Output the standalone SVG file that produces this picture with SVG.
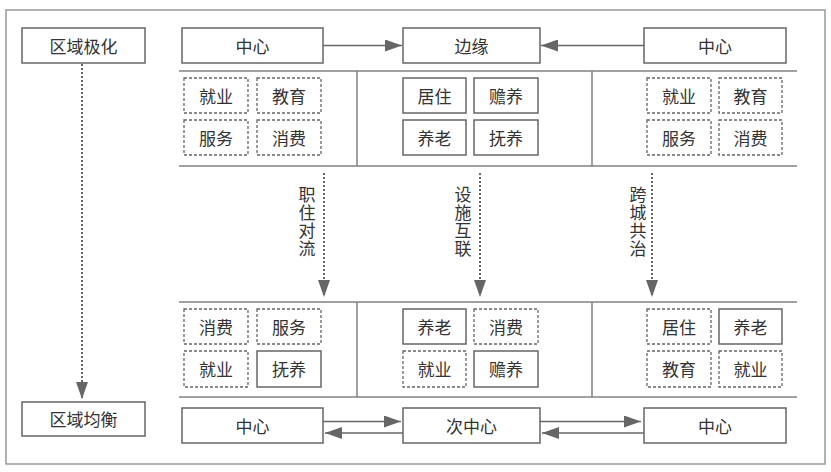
<svg xmlns="http://www.w3.org/2000/svg" width="831" height="472" viewBox="0 0 831 472">
<defs>
<style>
.frame{fill:#fff;stroke:#999;stroke-width:1.5}
.box{fill:#fff;stroke:#666;stroke-width:1.5}
.dbox{fill:#fff;stroke:#666;stroke-width:1.3;stroke-dasharray:3 2}
.line{stroke:#808080;stroke-width:1.5;fill:none}
.conn{stroke:#666;stroke-width:1.5;fill:none}
.dconn{stroke:#666;stroke-width:2;stroke-dasharray:2 2;fill:none}
text{font-family:"Noto Sans CJK SC","Noto Sans",sans-serif;font-size:17px;fill:#333;text-anchor:middle;dominant-baseline:central}
.vt{writing-mode:vertical-rl;letter-spacing:1px}
</style>
<marker id="ah" viewBox="0 0 17 12" refX="17" refY="6" markerWidth="17" markerHeight="12" markerUnits="userSpaceOnUse" orient="auto">
<path d="M0,0 L17,6 L0,12 Z" fill="#666"/>
</marker>
</defs>
<rect class="frame" x="6" y="10" width="819" height="454"/>

<g id="structure">
<line class="line" x1="179" y1="71" x2="797" y2="71"/>
<line class="line" x1="179" y1="166" x2="797" y2="166"/>
<line class="line" x1="357" y1="71" x2="357" y2="166"/>
<line class="line" x1="592" y1="71" x2="592" y2="166"/>
<line class="line" x1="179" y1="302" x2="797" y2="302"/>
<line class="line" x1="179" y1="397" x2="797" y2="397"/>
<line class="line" x1="357" y1="302" x2="357" y2="397"/>
<line class="line" x1="592" y1="302" x2="592" y2="397"/>
</g>

<g id="connectors">
<line class="conn" x1="323" y1="45.5" x2="402" y2="45.5" marker-end="url(#ah)"/>
<line class="conn" x1="644" y1="45.5" x2="541" y2="45.5" marker-end="url(#ah)"/>
<line class="dconn" x1="82" y1="64" x2="82" y2="399" marker-end="url(#ah)"/>
<line class="dconn" x1="324" y1="173" x2="324" y2="297" marker-end="url(#ah)"/>
<line class="dconn" x1="480" y1="173" x2="480" y2="297" marker-end="url(#ah)"/>
<line class="dconn" x1="652" y1="173" x2="652" y2="297" marker-end="url(#ah)"/>
<line class="conn" x1="323" y1="421.5" x2="401" y2="421.5" marker-end="url(#ah)"/>
<line class="conn" x1="403" y1="433" x2="325" y2="433" marker-end="url(#ah)"/>
<line class="conn" x1="540" y1="421.5" x2="641" y2="421.5" marker-end="url(#ah)"/>
<line class="conn" x1="644" y1="433" x2="542" y2="433" marker-end="url(#ah)"/>
</g>

<g id="label-zhuzhu"><text class="vt" x="307" y="222">职住对流</text></g>
<g id="label-sheshi"><text class="vt" x="463" y="222">设施互联</text></g>
<g id="label-kuacheng"><text class="vt" x="638" y="222">跨城共治</text></g>

<g id="polar"><rect class="box" x="22" y="28" width="123" height="35"/><text x="83.5" y="45">区域极化</text></g>
<g id="balance"><rect class="box" x="22" y="402" width="123" height="34"/><text x="83.5" y="418.5">区域均衡</text></g>

<g id="top-center-left"><rect class="box" x="182" y="28" width="141" height="35"/><text x="252.5" y="45">中心</text></g>
<g id="top-edge"><rect class="box" x="403" y="28" width="137" height="35"/><text x="471.5" y="45">边缘</text></g>
<g id="top-center-right"><rect class="box" x="644" y="28" width="142" height="35"/><text x="715" y="45">中心</text></g>

<g id="bot-center-left"><rect class="box" x="182" y="408" width="141" height="35"/><text x="252.5" y="425">中心</text></g>
<g id="bot-sub"><rect class="box" x="403" y="408" width="137" height="35"/><text x="471.5" y="425">次中心</text></g>
<g id="bot-center-right"><rect class="box" x="644" y="408" width="142" height="35"/><text x="715" y="425">中心</text></g>

<g id="t1"><rect class="dbox" x="184" y="78" width="64" height="35"/><text x="216" y="95">就业</text></g>
<g id="t2"><rect class="dbox" x="257" y="78" width="64" height="35"/><text x="289" y="95">教育</text></g>
<g id="t3"><rect class="dbox" x="184" y="120" width="64" height="35"/><text x="216" y="137">服务</text></g>
<g id="t4"><rect class="dbox" x="257" y="120" width="64" height="35"/><text x="289" y="137">消费</text></g>
<g id="t5"><rect class="box" x="403" y="78" width="63" height="35"/><text x="434.5" y="95">居住</text></g>
<g id="t6"><rect class="box" x="474" y="78" width="64" height="35"/><text x="506" y="95">赡养</text></g>
<g id="t7"><rect class="box" x="403" y="120" width="63" height="35"/><text x="434.5" y="137">养老</text></g>
<g id="t8"><rect class="box" x="474" y="120" width="64" height="35"/><text x="506" y="137">抚养</text></g>
<g id="t9"><rect class="dbox" x="647" y="78" width="64" height="35"/><text x="679" y="95">就业</text></g>
<g id="t10"><rect class="dbox" x="719" y="78" width="63" height="35"/><text x="750.5" y="95">教育</text></g>
<g id="t11"><rect class="dbox" x="647" y="120" width="64" height="35"/><text x="679" y="137">服务</text></g>
<g id="t12"><rect class="dbox" x="719" y="120" width="63" height="35"/><text x="750.5" y="137">消费</text></g>

<g id="b1"><rect class="dbox" x="184" y="309" width="64" height="35"/><text x="216" y="326">消费</text></g>
<g id="b2"><rect class="dbox" x="257" y="309" width="64" height="35"/><text x="289" y="326">服务</text></g>
<g id="b3"><rect class="dbox" x="184" y="351" width="64" height="36"/><text x="216" y="368.5">就业</text></g>
<g id="b4"><rect class="box" x="257" y="351" width="64" height="36"/><text x="289" y="368.5">抚养</text></g>
<g id="b5"><rect class="box" x="403" y="309" width="63" height="35"/><text x="434.5" y="326">养老</text></g>
<g id="b6"><rect class="dbox" x="474" y="309" width="64" height="35"/><text x="506" y="326">消费</text></g>
<g id="b7"><rect class="dbox" x="403" y="351" width="63" height="36"/><text x="434.5" y="368.5">就业</text></g>
<g id="b8"><rect class="box" x="474" y="351" width="64" height="36"/><text x="506" y="368.5">赡养</text></g>
<g id="b9"><rect class="dbox" x="647" y="309" width="64" height="35"/><text x="679" y="326">居住</text></g>
<g id="b10"><rect class="box" x="719" y="309" width="63" height="35"/><text x="750.5" y="326">养老</text></g>
<g id="b11"><rect class="dbox" x="647" y="351" width="64" height="36"/><text x="679" y="368.5">教育</text></g>
<g id="b12"><rect class="dbox" x="719" y="351" width="63" height="36"/><text x="750.5" y="368.5">就业</text></g>
</svg>
